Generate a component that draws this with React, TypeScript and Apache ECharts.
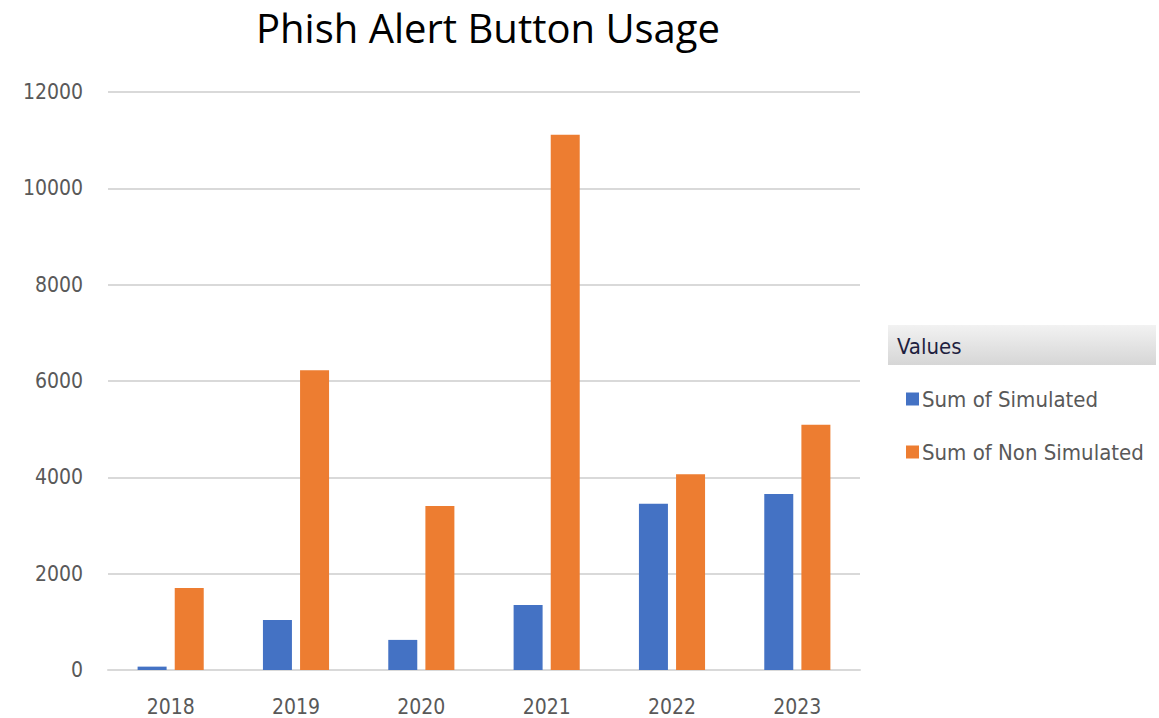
import React, { useEffect, useRef } from "react";
import * as echarts from "echarts";

const categories = ["2018", "2019", "2020", "2021", "2022", "2023"];
const simulated = [70, 1040, 625, 1348, 3450, 3655];
const nonSimulated = [1705, 6225, 3405, 11110, 4065, 5090];
const yTicks = { min: 0, max: 12000, interval: 2000 };

const FONT = "'DejaVu Sans Condensed', 'Liberation Sans Narrow', 'Noto Sans', sans-serif";

export default function App() {
  const ref = useRef<HTMLDivElement>(null);
  useEffect(() => {
    if (!ref.current) return;
    const chart = echarts.init(ref.current, undefined, { renderer: "svg" });
    chart.setOption({
      animation: false,
      backgroundColor: "#ffffff",
      title: {
        text: "Phish Alert Button Usage",
        left: 483,
        top: 2,
        textAlign: "center",
        textStyle: { fontFamily: "'Open Sans', 'Noto Sans', sans-serif", fontSize: 40, fontWeight: "normal", color: "#000000" },
      },
      grid: { left: 108, right: 299, top: 92, bottom: 48, containLabel: false },
      legend: {
        orient: "vertical",
        left: 901,
        top: 383,
        itemGap: 31,
        itemWidth: 13,
        itemHeight: 13,
        icon: "rect",
        textStyle: { fontFamily: FONT, fontSize: 22, color: "#595959", padding: [0, 0, 0, -2] },
        data: ["Sum of Simulated", "Sum of Non Simulated"],
      },
      graphic: [
        {
          type: "rect",
          shape: { x: 888, y: 325, width: 268, height: 40 },
          style: {
            fill: new echarts.graphic.LinearGradient(0, 0, 0, 1, [
              { offset: 0, color: "#f2f2f2" },
              { offset: 1, color: "#d6d6d6" },
            ]),
          },
        },
        {
          type: "text",
          x: 897,
          y: 346,
          style: { text: "Values", fontFamily: FONT, fontSize: 22, fill: "#1f1f3f", verticalAlign: "middle" },
        },
      ],
      xAxis: {
        type: "category",
        data: categories,
        axisLine: { lineStyle: { color: "#d9d9d9", width: 2 } },
        axisTick: { show: false },
        axisLabel: { fontFamily: FONT, fontSize: 21, color: "#595959", margin: 26 },
      },
      yAxis: {
        type: "value",
        min: yTicks.min,
        max: yTicks.max,
        interval: yTicks.interval,
        axisLine: { show: false },
        axisTick: { show: false },
        splitLine: { lineStyle: { color: "#d9d9d9", width: 2 } },
        axisLabel: { fontFamily: FONT, fontSize: 21, color: "#595959", margin: 25, formatter: (v: number) => String(v) },
      },
      series: [
        {
          name: "Sum of Simulated",
          type: "bar",
          data: simulated,
          barWidth: 29,
          barGap: "28%",
          itemStyle: { color: "#4472c4" },
        },
        {
          name: "Sum of Non Simulated",
          type: "bar",
          data: nonSimulated,
          barWidth: 29,
          itemStyle: { color: "#ed7d31" },
        },
      ],
    });
    return () => chart.dispose();
  }, []);
  return <div ref={ref} style={{ position: "fixed", left: 0, top: 0, width: 1159, height: 718 }} />;
}
